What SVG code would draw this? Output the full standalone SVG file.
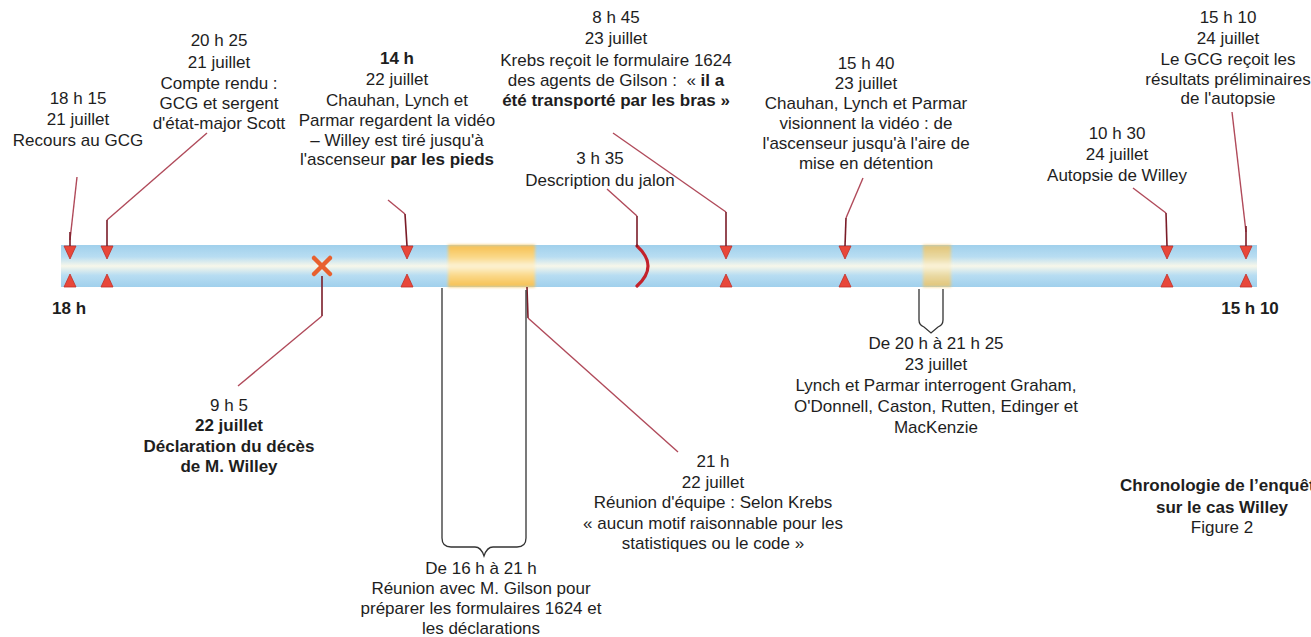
<svg xmlns="http://www.w3.org/2000/svg" width="1311" height="637" viewBox="0 0 1311 637">
<style>
.t{font-family:"Liberation Sans",Arial,sans-serif;font-size:17px;fill:#1e1e1e;text-anchor:middle}
.b{font-weight:bold}
.conn{fill:none;stroke:#b04a5a;stroke-width:1.4}
.stem{fill:none;stroke:#7a1c28;stroke-width:1.6}
.brace{fill:none;stroke:#333;stroke-width:1.3}
.mk{fill:#e8473a;stroke:#c0302a;stroke-width:0.8}
</style>
<defs>
<linearGradient id="gBar" x1="0" y1="0" x2="0" y2="1">
<stop offset="0" stop-color="#a0d0ec"/>
<stop offset="0.28" stop-color="#b8ddf2"/>
<stop offset="0.5" stop-color="#f7f7ea"/>
<stop offset="0.72" stop-color="#b8ddf2"/>
<stop offset="1" stop-color="#a0d0ec"/>
</linearGradient>
<linearGradient id="gOr" x1="0" y1="0" x2="0" y2="1">
<stop offset="0" stop-color="#f7bf4e"/>
<stop offset="0.3" stop-color="#fad98a"/>
<stop offset="0.5" stop-color="#fdf3d6"/>
<stop offset="0.72" stop-color="#fad98a"/>
<stop offset="1" stop-color="#f7bf4e"/>
</linearGradient>
<filter id="blur" x="-0.3" y="-0.1" width="1.6" height="1.2"><feGaussianBlur stdDeviation="1.6"/></filter>
<path id="tDown" d="M-6,0 L6,0 L0,13 Z"/>
<path id="tUp" d="M-6,0 L6,0 L0,-13 Z"/>
</defs>
<rect width="1311" height="637" fill="#ffffff"/>

<g id="timeline">
<rect x="61" y="245" width="1196" height="42" fill="url(#gBar)"/>
<rect x="448" y="245" width="87" height="42" fill="url(#gOr)" filter="url(#blur)"/>
<rect x="923" y="245" width="28" height="42" fill="url(#gOr)" opacity="0.75" filter="url(#blur)"/>
<path d="M637,246 Q659,266 637,286" fill="none" stroke="#c3222b" stroke-width="3.2" stroke-linecap="round"/>
</g>

<g id="markers">
<use href="#tDown" x="70" y="246" class="mk"/><use href="#tUp" x="70" y="287" class="mk"/>
<use href="#tDown" x="107" y="246" class="mk"/><use href="#tUp" x="107" y="287" class="mk"/>
<use href="#tDown" x="407" y="246" class="mk"/><use href="#tUp" x="407" y="287" class="mk"/>
<use href="#tDown" x="726" y="246" class="mk"/><use href="#tUp" x="726" y="287" class="mk"/>
<use href="#tDown" x="845" y="246" class="mk"/><use href="#tUp" x="845" y="287" class="mk"/>
<use href="#tDown" x="1167" y="246" class="mk"/><use href="#tUp" x="1167" y="287" class="mk"/>
<use href="#tDown" x="1246" y="246" class="mk"/><use href="#tUp" x="1246" y="287" class="mk"/>
<g id="deathMark" stroke="#e8602e" stroke-width="4.5" stroke-linecap="round">
<line x1="314" y1="258" x2="330" y2="274"/><line x1="330" y1="258" x2="314" y2="274"/>
</g>
</g>

<g id="connectors">
<path class="conn" d="M77,177 L70,240"/><path class="stem" d="M70,232 L70,246"/>
<path class="conn" d="M207,133 L107,220"/><path class="stem" d="M107,220 L107,246"/>
<path class="conn" d="M388,200 L405,214"/><path class="stem" d="M405,214 L407,246"/>
<path class="conn" d="M607,189 L637,216"/><path class="stem" d="M637,216 L637,247"/>
<path class="conn" d="M613,133 L726,212"/><path class="stem" d="M726,212 L726,246"/>
<path class="conn" d="M863,178 L846,218"/><path class="stem" d="M846,218 L845,246"/>
<path class="conn" d="M1133,188 L1166,213"/><path class="stem" d="M1166,213 L1167,246"/>
<path class="conn" d="M1232,112 L1246,232"/><path class="stem" d="M1246,226 L1246,246"/>
<path class="stem" d="M322,276 L322,316"/><path class="conn" d="M322,316 L238,386"/>
<path class="stem" d="M527,287 L528,318"/><path class="conn" d="M528,318 L678,452"/>
<path class="brace" d="M442,288 L442,538 Q442,547 451,547 L475,547 Q481,547 484,556 Q487,547 493,547 L517,547 Q526,547 526,538 L526,290"/>
<path class="brace" d="M919,289 L919,320 Q919,325 924,327 L931,333 L938,327 Q943,325 943,320 L943,289"/>
</g>

<g id="ev-1815" class="t">
<text x="78" y="104">18 h 15</text>
<text x="78" y="125">21 juillet</text>
<text x="78" y="146">Recours au GCG</text>
</g>
<g id="ev-2025" class="t">
<text x="219" y="46">20 h 25</text>
<text x="219" y="68">21 juillet</text>
<text x="219" y="89">Compte rendu :</text>
<text x="219" y="109">GCG et sergent</text>
<text x="219" y="129">d'état-major Scott</text>
</g>
<g id="ev-14h" class="t">
<text x="397" y="64" class="b">14 h</text>
<text x="397" y="85">22 juillet</text>
<text x="397" y="106">Chauhan, Lynch et</text>
<text x="397" y="126">Parmar regardent la vidéo</text>
<text x="397" y="146">– Willey est tiré jusqu'à</text>
<text x="397" y="165">l'ascenseur <tspan class="b">par les pieds</tspan></text>
</g>
<g id="ev-0845" class="t">
<text x="616" y="23">8 h 45</text>
<text x="616" y="44">23 juillet</text>
<text x="616" y="66">Krebs reçoit le formulaire 1624</text>
<text x="616" y="86">des agents de Gilson :&#160; « <tspan class="b">il a</tspan></text>
<text x="616" y="106" class="b">été transporté par les bras »</text>
</g>
<g id="ev-0335" class="t">
<text x="600" y="164">3 h 35</text>
<text x="600" y="186">Description du jalon</text>
</g>
<g id="ev-1540" class="t">
<text x="866" y="69">15 h 40</text>
<text x="866" y="89">23 juillet</text>
<text x="866" y="109">Chauhan, Lynch et Parmar</text>
<text x="866" y="129">visionnent la vidéo : de</text>
<text x="866" y="149">l'ascenseur jusqu'à l'aire de</text>
<text x="866" y="169">mise en détention</text>
</g>
<g id="ev-1030" class="t">
<text x="1117" y="139">10 h 30</text>
<text x="1117" y="160">24 juillet</text>
<text x="1117" y="181">Autopsie de Willey</text>
</g>
<g id="ev-1510" class="t">
<text x="1228" y="23">15 h 10</text>
<text x="1228" y="44">24 juillet</text>
<text x="1228" y="65">Le GCG reçoit les</text>
<text x="1228" y="85">résultats préliminaires</text>
<text x="1228" y="104">de l'autopsie</text>
</g>

<g id="axis-labels" class="t b">
<text x="52" y="314" style="text-anchor:start">18 h</text>
<text x="1250" y="314">15 h 10</text>
</g>

<g id="ev-0905" class="t">
<text x="229" y="411">9 h 5</text>
<text x="229" y="431" class="b">22 juillet</text>
<text x="229" y="452" class="b">Déclaration du décès</text>
<text x="229" y="472" class="b">de M. Willey</text>
</g>
<g id="ev-21h" class="t">
<text x="713" y="467">21 h</text>
<text x="713" y="488">22 juillet</text>
<text x="713" y="508">Réunion d'équipe : Selon Krebs</text>
<text x="713" y="529">« aucun motif raisonnable pour les</text>
<text x="713" y="549">statistiques ou le code »</text>
</g>
<g id="ev-16-21" class="t">
<text x="481" y="574">De 16 h à 21 h</text>
<text x="481" y="594">Réunion avec M. Gilson pour</text>
<text x="481" y="614">préparer les formulaires 1624 et</text>
<text x="481" y="634">les déclarations</text>
</g>
<g id="ev-20-2125" class="t">
<text x="936" y="349">De 20 h à 21 h 25</text>
<text x="936" y="370">23 juillet</text>
<text x="936" y="391">Lynch et Parmar interrogent Graham,</text>
<text x="936" y="412">O'Donnell, Caston, Rutten, Edinger et</text>
<text x="936" y="433">MacKenzie</text>
</g>
<g id="caption" class="t">
<text x="1222" y="491" class="b">Chronologie de l’enquête</text>
<text x="1222" y="513" class="b">sur le cas Willey</text>
<text x="1222" y="533">Figure 2</text>
</g>
</svg>
